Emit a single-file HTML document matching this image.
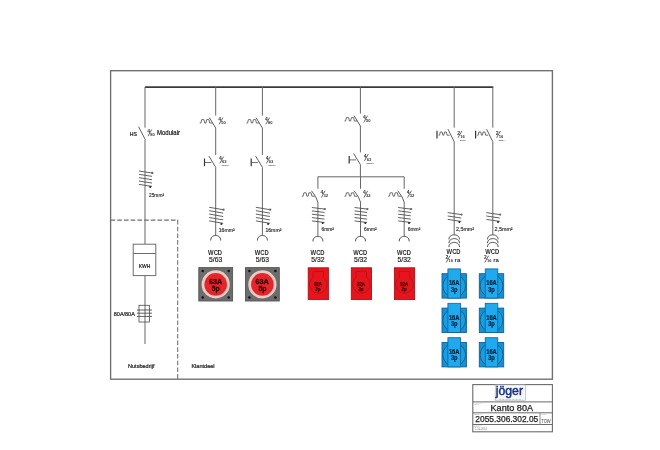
<!DOCTYPE html>
<html><head><meta charset="utf-8"><style>
html,body{margin:0;padding:0;background:#fff;width:660px;height:450px;overflow:hidden}
svg{display:block;font-family:"Liberation Sans", sans-serif;will-change:transform}
</style></head><body>
<svg width="660" height="450" viewBox="0 0 660 450">
<rect x="0" y="0" width="660" height="450" fill="#fff"/>
<rect x="110.6" y="70.7" width="441.8" height="308.5" fill="none" stroke="#6e6e6e" stroke-width="1.35"/>
<line x1="145.00" y1="87.20" x2="493.30" y2="87.20" stroke="#3a3a3a" stroke-width="1.7" />
<line x1="145.00" y1="87.00" x2="145.00" y2="127.70" stroke="#666" stroke-width="1.0" />
<line x1="138.60" y1="126.70" x2="145.40" y2="139.90" stroke="#555" stroke-width="0.95" />
<line x1="145.00" y1="140.00" x2="145.00" y2="244.20" stroke="#666" stroke-width="1.0" />
<text x="129.80" y="136.20" font-size="5.8" fill="#222" text-anchor="start" font-weight="normal" textLength="7.2" lengthAdjust="spacingAndGlyphs" stroke="#222" stroke-width="0.22" >HS</text>
<text x="147.20" y="133.00" font-size="5" fill="#333" text-anchor="start" font-weight="bold" >4</text>
<line x1="148.00" y1="136.20" x2="151.80" y2="129.40" stroke="#333" stroke-width="0.75" />
<text x="150.20" y="136.00" font-size="4.1" fill="#333" text-anchor="start" font-weight="bold" >80</text>
<text x="157.00" y="135.20" font-size="6.4" fill="#222" text-anchor="start" font-weight="normal" textLength="23" lengthAdjust="spacingAndGlyphs" stroke="#222" stroke-width="0.22" >Modulair</text>
<line x1="139.00" y1="171.00" x2="152.00" y2="173.00" stroke="#505050" stroke-width="0.9" />
<line x1="139.00" y1="174.35" x2="152.00" y2="176.35" stroke="#505050" stroke-width="0.9" />
<line x1="139.00" y1="177.70" x2="152.00" y2="179.70" stroke="#505050" stroke-width="0.9" />
<line x1="139.00" y1="181.05" x2="152.00" y2="183.05" stroke="#505050" stroke-width="0.9" />
<line x1="139.00" y1="184.40" x2="152.00" y2="186.40" stroke="#505050" stroke-width="0.9" />
<circle cx="152.30" cy="173.00" r="1.15" fill="#666"/>
<circle cx="150.20" cy="187.00" r="1.0" fill="#222"/>
<text x="149.00" y="196.60" font-size="5.2" fill="#2a2a2a" text-anchor="start" font-weight="normal" textLength="15" lengthAdjust="spacingAndGlyphs" stroke="#2a2a2a" stroke-width="0.15" >25mm²</text>
<path d="M110.6,220.1 L177.7,220.1 L177.7,379" fill="none" stroke="#6e6e6e" stroke-width="1.05" stroke-dasharray="4.6,2.1"/>
<rect x="133.2" y="244.2" width="22.6" height="31.4" fill="#fff" stroke="#666" stroke-width="0.95"/>
<line x1="133.20" y1="253.50" x2="155.80" y2="253.50" stroke="#666" stroke-width="0.95" />
<text x="144.50" y="267.80" font-size="5.4" fill="#222" text-anchor="middle" font-weight="normal" textLength="11.6" lengthAdjust="spacingAndGlyphs" stroke="#222" stroke-width="0.22" >KWH</text>
<line x1="145.00" y1="275.60" x2="145.00" y2="344.00" stroke="#666" stroke-width="1.0" />
<rect x="139" y="305.3" width="10.4" height="16.7" fill="none" stroke="#555" stroke-width="0.85"/>
<line x1="137.00" y1="310.00" x2="152.00" y2="310.00" stroke="#444" stroke-width="0.85" />
<line x1="137.00" y1="313.20" x2="152.00" y2="313.20" stroke="#444" stroke-width="0.85" />
<line x1="137.00" y1="316.40" x2="152.00" y2="316.40" stroke="#444" stroke-width="0.85" />
<text x="113.80" y="316.20" font-size="5.6" fill="#222" text-anchor="start" font-weight="normal" textLength="21" lengthAdjust="spacingAndGlyphs" stroke="#222" stroke-width="0.22" >80A/80A</text>
<text x="128.00" y="367.80" font-size="5.6" fill="#222" text-anchor="start" font-weight="normal" textLength="26.6" lengthAdjust="spacingAndGlyphs" stroke="#222" stroke-width="0.22" >Nutsbedrijf</text>
<text x="191.40" y="367.80" font-size="5.6" fill="#222" text-anchor="start" font-weight="normal" textLength="23.2" lengthAdjust="spacingAndGlyphs" stroke="#222" stroke-width="0.22" >Klantdeel</text>
<line x1="215.70" y1="87.00" x2="215.70" y2="115.60" stroke="#666" stroke-width="1.0" />
<line x1="209.30" y1="117.60" x2="215.70" y2="128.00" stroke="#555" stroke-width="0.95" />
<path d="M199.70,123.00 L200.90,123.00 L201.70,119.60 L203.90,119.60 L204.70,123.00 L205.90,123.00 L206.70,119.60 L208.90,119.60 L209.70,123.00 L212.70,123.00" fill="none" stroke="#555" stroke-width="0.85" stroke-linejoin="round"/>
<text x="218.30" y="121.20" font-size="5" fill="#333" text-anchor="start" font-weight="bold" >4</text>
<line x1="219.10" y1="124.40" x2="222.90" y2="117.60" stroke="#333" stroke-width="0.75" />
<text x="221.30" y="124.20" font-size="4.1" fill="#333" text-anchor="start" font-weight="bold" >50</text>
<line x1="215.70" y1="128.00" x2="215.70" y2="155.00" stroke="#666" stroke-width="1.0" />
<line x1="208.90" y1="156.10" x2="215.70" y2="167.30" stroke="#555" stroke-width="0.95" />
<line x1="204.50" y1="158.50" x2="204.50" y2="166.20" stroke="#333" stroke-width="1.2" />
<line x1="204.50" y1="162.50" x2="211.30" y2="162.50" stroke="#555" stroke-width="0.85" />
<text x="219.00" y="160.20" font-size="5" fill="#333" text-anchor="start" font-weight="bold" >4</text>
<line x1="219.80" y1="163.40" x2="223.60" y2="156.60" stroke="#333" stroke-width="0.75" />
<text x="222.00" y="163.20" font-size="4.1" fill="#333" text-anchor="start" font-weight="bold" >63</text>
<text x="221.60" y="166.10" font-size="2.4" fill="#555" text-anchor="start" font-weight="bold" >300mA</text>
<line x1="215.70" y1="167.30" x2="215.70" y2="235.50" stroke="#666" stroke-width="1.0" />
<line x1="209.20" y1="207.30" x2="223.20" y2="209.70" stroke="#505050" stroke-width="0.9" />
<line x1="209.20" y1="210.70" x2="223.20" y2="213.10" stroke="#505050" stroke-width="0.9" />
<line x1="209.20" y1="214.10" x2="223.20" y2="216.50" stroke="#505050" stroke-width="0.9" />
<line x1="209.20" y1="217.50" x2="223.20" y2="219.90" stroke="#505050" stroke-width="0.9" />
<line x1="209.20" y1="220.90" x2="223.20" y2="223.30" stroke="#505050" stroke-width="0.9" />
<circle cx="223.50" cy="209.70" r="1.15" fill="#666"/>
<circle cx="221.40" cy="223.90" r="1.0" fill="#222"/>
<text x="218.70" y="231.80" font-size="5.2" fill="#2a2a2a" text-anchor="start" font-weight="normal" textLength="16" lengthAdjust="spacingAndGlyphs" stroke="#2a2a2a" stroke-width="0.15" >16mm²</text>
<path d="M210.70,240.50 C210.70,236.50 213.70,235.50 215.70,235.50 C217.70,235.50 220.70,236.50 220.70,240.50" fill="none" stroke="#444" stroke-width="0.95"/>
<text x="215.10" y="255.30" font-size="6.4" fill="#2a2a2a" text-anchor="middle" font-weight="bold" textLength="14" lengthAdjust="spacingAndGlyphs" >WCD</text>
<text x="215.70" y="262.20" font-size="6.4" fill="#2a2a2a" text-anchor="middle" font-weight="normal" textLength="13.2" lengthAdjust="spacingAndGlyphs" stroke="#2a2a2a" stroke-width="0.2" >5/63</text>
<rect x="198.80" y="267.60" width="33.8" height="33.4" fill="#6c6c6c" stroke="#555" stroke-width="0.9"/>
<circle cx="202.70" cy="271.00" r="1.25" fill="#111"/>
<circle cx="202.70" cy="297.40" r="1.25" fill="#111"/>
<circle cx="228.70" cy="271.00" r="1.25" fill="#111"/>
<circle cx="228.70" cy="297.40" r="1.25" fill="#111"/>
<circle cx="215.70" cy="284.40" r="14.1" fill="#eccbc6"/>
<circle cx="215.70" cy="284.40" r="11.3" fill="#e3262c"/>
<text x="215.50" y="284.10" font-size="7.4" fill="#380303" text-anchor="middle" font-weight="bold" textLength="13.2" lengthAdjust="spacingAndGlyphs" stroke="#380303" stroke-width="0.3" >63A</text>
<text x="215.70" y="291.30" font-size="7.4" fill="#380303" text-anchor="middle" font-weight="bold" textLength="8.0" lengthAdjust="spacingAndGlyphs" stroke="#380303" stroke-width="0.3" >5p</text>
<line x1="262.40" y1="87.00" x2="262.40" y2="115.60" stroke="#666" stroke-width="1.0" />
<line x1="256.00" y1="117.60" x2="262.40" y2="128.00" stroke="#555" stroke-width="0.95" />
<path d="M246.40,123.00 L247.60,123.00 L248.40,119.60 L250.60,119.60 L251.40,123.00 L252.60,123.00 L253.40,119.60 L255.60,119.60 L256.40,123.00 L259.40,123.00" fill="none" stroke="#555" stroke-width="0.85" stroke-linejoin="round"/>
<text x="265.00" y="121.20" font-size="5" fill="#333" text-anchor="start" font-weight="bold" >4</text>
<line x1="265.80" y1="124.40" x2="269.60" y2="117.60" stroke="#333" stroke-width="0.75" />
<text x="268.00" y="124.20" font-size="4.1" fill="#333" text-anchor="start" font-weight="bold" >80</text>
<line x1="262.40" y1="128.00" x2="262.40" y2="155.00" stroke="#666" stroke-width="1.0" />
<line x1="255.60" y1="156.10" x2="262.40" y2="167.30" stroke="#555" stroke-width="0.95" />
<line x1="251.20" y1="158.50" x2="251.20" y2="166.20" stroke="#333" stroke-width="1.2" />
<line x1="251.20" y1="162.50" x2="258.00" y2="162.50" stroke="#555" stroke-width="0.85" />
<text x="265.70" y="160.20" font-size="5" fill="#333" text-anchor="start" font-weight="bold" >4</text>
<line x1="266.50" y1="163.40" x2="270.30" y2="156.60" stroke="#333" stroke-width="0.75" />
<text x="268.70" y="163.20" font-size="4.1" fill="#333" text-anchor="start" font-weight="bold" >63</text>
<text x="268.30" y="166.10" font-size="2.4" fill="#555" text-anchor="start" font-weight="bold" >300mA</text>
<line x1="262.40" y1="167.30" x2="262.40" y2="235.50" stroke="#666" stroke-width="1.0" />
<line x1="255.90" y1="207.30" x2="269.90" y2="209.70" stroke="#505050" stroke-width="0.9" />
<line x1="255.90" y1="210.70" x2="269.90" y2="213.10" stroke="#505050" stroke-width="0.9" />
<line x1="255.90" y1="214.10" x2="269.90" y2="216.50" stroke="#505050" stroke-width="0.9" />
<line x1="255.90" y1="217.50" x2="269.90" y2="219.90" stroke="#505050" stroke-width="0.9" />
<line x1="255.90" y1="220.90" x2="269.90" y2="223.30" stroke="#505050" stroke-width="0.9" />
<circle cx="270.20" cy="209.70" r="1.15" fill="#666"/>
<circle cx="268.10" cy="223.90" r="1.0" fill="#222"/>
<text x="265.40" y="231.80" font-size="5.2" fill="#2a2a2a" text-anchor="start" font-weight="normal" textLength="16" lengthAdjust="spacingAndGlyphs" stroke="#2a2a2a" stroke-width="0.15" >16mm²</text>
<path d="M257.40,240.50 C257.40,236.50 260.40,235.50 262.40,235.50 C264.40,235.50 267.40,236.50 267.40,240.50" fill="none" stroke="#444" stroke-width="0.95"/>
<text x="261.80" y="255.30" font-size="6.4" fill="#2a2a2a" text-anchor="middle" font-weight="bold" textLength="14" lengthAdjust="spacingAndGlyphs" >WCD</text>
<text x="262.40" y="262.20" font-size="6.4" fill="#2a2a2a" text-anchor="middle" font-weight="normal" textLength="13.2" lengthAdjust="spacingAndGlyphs" stroke="#2a2a2a" stroke-width="0.2" >5/63</text>
<rect x="245.50" y="267.60" width="33.8" height="33.4" fill="#6c6c6c" stroke="#555" stroke-width="0.9"/>
<circle cx="249.40" cy="271.00" r="1.25" fill="#111"/>
<circle cx="249.40" cy="297.40" r="1.25" fill="#111"/>
<circle cx="275.40" cy="271.00" r="1.25" fill="#111"/>
<circle cx="275.40" cy="297.40" r="1.25" fill="#111"/>
<circle cx="262.40" cy="284.40" r="14.1" fill="#eccbc6"/>
<circle cx="262.40" cy="284.40" r="11.3" fill="#e3262c"/>
<text x="262.20" y="284.10" font-size="7.4" fill="#380303" text-anchor="middle" font-weight="bold" textLength="13.2" lengthAdjust="spacingAndGlyphs" stroke="#380303" stroke-width="0.3" >63A</text>
<text x="262.40" y="291.30" font-size="7.4" fill="#380303" text-anchor="middle" font-weight="bold" textLength="8.0" lengthAdjust="spacingAndGlyphs" stroke="#380303" stroke-width="0.3" >5p</text>
<line x1="360.40" y1="87.00" x2="360.40" y2="113.60" stroke="#666" stroke-width="1.0" />
<line x1="354.00" y1="115.60" x2="360.40" y2="126.00" stroke="#555" stroke-width="0.95" />
<path d="M344.40,121.00 L345.60,121.00 L346.40,117.60 L348.60,117.60 L349.40,121.00 L350.60,121.00 L351.40,117.60 L353.60,117.60 L354.40,121.00 L357.40,121.00" fill="none" stroke="#555" stroke-width="0.85" stroke-linejoin="round"/>
<text x="363.00" y="119.20" font-size="5" fill="#333" text-anchor="start" font-weight="bold" >4</text>
<line x1="363.80" y1="122.40" x2="367.60" y2="115.60" stroke="#333" stroke-width="0.75" />
<text x="366.00" y="122.20" font-size="4.1" fill="#333" text-anchor="start" font-weight="bold" >50</text>
<line x1="360.40" y1="126.00" x2="360.40" y2="152.40" stroke="#666" stroke-width="1.0" />
<line x1="353.60" y1="153.50" x2="360.40" y2="164.60" stroke="#555" stroke-width="0.95" />
<line x1="349.20" y1="155.90" x2="349.20" y2="163.60" stroke="#333" stroke-width="1.2" />
<line x1="349.20" y1="159.90" x2="356.00" y2="159.90" stroke="#555" stroke-width="0.85" />
<text x="363.70" y="157.60" font-size="5" fill="#333" text-anchor="start" font-weight="bold" >4</text>
<line x1="364.50" y1="160.80" x2="368.30" y2="154.00" stroke="#333" stroke-width="0.75" />
<text x="366.70" y="160.60" font-size="4.1" fill="#333" text-anchor="start" font-weight="bold" >63</text>
<text x="366.30" y="163.50" font-size="2.4" fill="#555" text-anchor="start" font-weight="bold" >300mA</text>
<line x1="360.40" y1="164.60" x2="360.40" y2="176.80" stroke="#666" stroke-width="1.0" />
<line x1="317.80" y1="176.80" x2="404.20" y2="176.80" stroke="#666" stroke-width="1.0" />
<line x1="317.90" y1="176.80" x2="317.90" y2="188.80" stroke="#666" stroke-width="1.0" />
<path d="M311.50,190.80 Q316.70,197.07 317.90,202.20" fill="none" stroke="#555" stroke-width="0.95"/>
<path d="M301.90,196.20 L303.10,196.20 L303.90,192.80 L306.10,192.80 L306.90,196.20 L308.10,196.20 L308.90,192.80 L311.10,192.80 L311.90,196.20 L314.90,196.20" fill="none" stroke="#555" stroke-width="0.85" stroke-linejoin="round"/>
<text x="320.50" y="194.40" font-size="5" fill="#333" text-anchor="start" font-weight="bold" >4</text>
<line x1="321.30" y1="197.60" x2="325.10" y2="190.80" stroke="#333" stroke-width="0.75" />
<text x="323.50" y="197.40" font-size="4.1" fill="#333" text-anchor="start" font-weight="bold" >32</text>
<line x1="317.90" y1="202.00" x2="317.90" y2="236.40" stroke="#666" stroke-width="1.0" />
<line x1="311.90" y1="207.50" x2="324.50" y2="209.10" stroke="#505050" stroke-width="0.9" />
<line x1="311.90" y1="210.85" x2="324.50" y2="212.45" stroke="#505050" stroke-width="0.9" />
<line x1="311.90" y1="214.20" x2="324.50" y2="215.80" stroke="#505050" stroke-width="0.9" />
<line x1="311.90" y1="217.55" x2="324.50" y2="219.15" stroke="#505050" stroke-width="0.9" />
<line x1="311.90" y1="220.90" x2="324.50" y2="222.50" stroke="#505050" stroke-width="0.9" />
<circle cx="324.80" cy="209.10" r="1.15" fill="#666"/>
<circle cx="322.70" cy="223.10" r="1.0" fill="#222"/>
<text x="321.50" y="230.60" font-size="5.2" fill="#2a2a2a" text-anchor="start" font-weight="normal" textLength="12.5" lengthAdjust="spacingAndGlyphs" stroke="#2a2a2a" stroke-width="0.15" >6mm²</text>
<path d="M312.90,241.40 C312.90,237.40 315.90,236.40 317.90,236.40 C319.90,236.40 322.90,237.40 322.90,241.40" fill="none" stroke="#444" stroke-width="0.95"/>
<text x="317.60" y="255.30" font-size="6.4" fill="#2a2a2a" text-anchor="middle" font-weight="bold" textLength="14" lengthAdjust="spacingAndGlyphs" >WCD</text>
<text x="317.90" y="262.20" font-size="6.4" fill="#2a2a2a" text-anchor="middle" font-weight="normal" textLength="13.2" lengthAdjust="spacingAndGlyphs" stroke="#2a2a2a" stroke-width="0.2" >5/32</text>
<rect x="308.20" y="267.80" width="20.2" height="31.8" fill="#e6141d" stroke="#a81218" stroke-width="0.9"/>
<path d="M313.00,277.40 L313.00,271.40 L323.40,271.40 L323.40,277.40 A8.8,8.8 0 1 1 313.00,277.40 Z" fill="none" stroke="#bb0f17" stroke-width="0.8"/>
<text x="317.90" y="285.60" font-size="5.2" fill="#4a0404" text-anchor="middle" font-weight="bold" textLength="8.0" lengthAdjust="spacingAndGlyphs" stroke="#4a0404" stroke-width="0.25" >32A</text>
<text x="317.90" y="290.70" font-size="5.2" fill="#4a0404" text-anchor="middle" font-weight="bold" textLength="5.2" lengthAdjust="spacingAndGlyphs" stroke="#4a0404" stroke-width="0.25" >3p</text>
<line x1="360.50" y1="176.80" x2="360.50" y2="188.80" stroke="#666" stroke-width="1.0" />
<path d="M354.10,190.80 Q359.30,197.07 360.50,202.20" fill="none" stroke="#555" stroke-width="0.95"/>
<path d="M344.50,196.20 L345.70,196.20 L346.50,192.80 L348.70,192.80 L349.50,196.20 L350.70,196.20 L351.50,192.80 L353.70,192.80 L354.50,196.20 L357.50,196.20" fill="none" stroke="#555" stroke-width="0.85" stroke-linejoin="round"/>
<text x="363.10" y="194.40" font-size="5" fill="#333" text-anchor="start" font-weight="bold" >4</text>
<line x1="363.90" y1="197.60" x2="367.70" y2="190.80" stroke="#333" stroke-width="0.75" />
<text x="366.10" y="197.40" font-size="4.1" fill="#333" text-anchor="start" font-weight="bold" >32</text>
<line x1="360.50" y1="202.00" x2="360.50" y2="236.40" stroke="#666" stroke-width="1.0" />
<line x1="354.50" y1="207.50" x2="367.10" y2="209.10" stroke="#505050" stroke-width="0.9" />
<line x1="354.50" y1="210.85" x2="367.10" y2="212.45" stroke="#505050" stroke-width="0.9" />
<line x1="354.50" y1="214.20" x2="367.10" y2="215.80" stroke="#505050" stroke-width="0.9" />
<line x1="354.50" y1="217.55" x2="367.10" y2="219.15" stroke="#505050" stroke-width="0.9" />
<line x1="354.50" y1="220.90" x2="367.10" y2="222.50" stroke="#505050" stroke-width="0.9" />
<circle cx="367.40" cy="209.10" r="1.15" fill="#666"/>
<circle cx="365.30" cy="223.10" r="1.0" fill="#222"/>
<text x="364.10" y="230.60" font-size="5.2" fill="#2a2a2a" text-anchor="start" font-weight="normal" textLength="12.5" lengthAdjust="spacingAndGlyphs" stroke="#2a2a2a" stroke-width="0.15" >6mm²</text>
<path d="M355.50,241.40 C355.50,237.40 358.50,236.40 360.50,236.40 C362.50,236.40 365.50,237.40 365.50,241.40" fill="none" stroke="#444" stroke-width="0.95"/>
<text x="360.20" y="255.30" font-size="6.4" fill="#2a2a2a" text-anchor="middle" font-weight="bold" textLength="14" lengthAdjust="spacingAndGlyphs" >WCD</text>
<text x="360.50" y="262.20" font-size="6.4" fill="#2a2a2a" text-anchor="middle" font-weight="normal" textLength="13.2" lengthAdjust="spacingAndGlyphs" stroke="#2a2a2a" stroke-width="0.2" >5/32</text>
<rect x="351.30" y="267.80" width="20.2" height="31.8" fill="#e6141d" stroke="#a81218" stroke-width="0.9"/>
<path d="M356.10,277.40 L356.10,271.40 L366.50,271.40 L366.50,277.40 A8.8,8.8 0 1 1 356.10,277.40 Z" fill="none" stroke="#bb0f17" stroke-width="0.8"/>
<text x="361.00" y="285.60" font-size="5.2" fill="#4a0404" text-anchor="middle" font-weight="bold" textLength="8.0" lengthAdjust="spacingAndGlyphs" stroke="#4a0404" stroke-width="0.25" >32A</text>
<text x="361.00" y="290.70" font-size="5.2" fill="#4a0404" text-anchor="middle" font-weight="bold" textLength="5.2" lengthAdjust="spacingAndGlyphs" stroke="#4a0404" stroke-width="0.25" >3p</text>
<line x1="404.20" y1="176.80" x2="404.20" y2="188.80" stroke="#666" stroke-width="1.0" />
<path d="M397.80,190.80 Q403.00,197.07 404.20,202.20" fill="none" stroke="#555" stroke-width="0.95"/>
<path d="M388.20,196.20 L389.40,196.20 L390.20,192.80 L392.40,192.80 L393.20,196.20 L394.40,196.20 L395.20,192.80 L397.40,192.80 L398.20,196.20 L401.20,196.20" fill="none" stroke="#555" stroke-width="0.85" stroke-linejoin="round"/>
<text x="406.80" y="194.40" font-size="5" fill="#333" text-anchor="start" font-weight="bold" >4</text>
<line x1="407.60" y1="197.60" x2="411.40" y2="190.80" stroke="#333" stroke-width="0.75" />
<text x="409.80" y="197.40" font-size="4.1" fill="#333" text-anchor="start" font-weight="bold" >32</text>
<line x1="404.20" y1="202.00" x2="404.20" y2="236.40" stroke="#666" stroke-width="1.0" />
<line x1="398.20" y1="207.50" x2="410.80" y2="209.10" stroke="#505050" stroke-width="0.9" />
<line x1="398.20" y1="210.85" x2="410.80" y2="212.45" stroke="#505050" stroke-width="0.9" />
<line x1="398.20" y1="214.20" x2="410.80" y2="215.80" stroke="#505050" stroke-width="0.9" />
<line x1="398.20" y1="217.55" x2="410.80" y2="219.15" stroke="#505050" stroke-width="0.9" />
<line x1="398.20" y1="220.90" x2="410.80" y2="222.50" stroke="#505050" stroke-width="0.9" />
<circle cx="411.10" cy="209.10" r="1.15" fill="#666"/>
<circle cx="409.00" cy="223.10" r="1.0" fill="#222"/>
<text x="407.80" y="230.60" font-size="5.2" fill="#2a2a2a" text-anchor="start" font-weight="normal" textLength="12.5" lengthAdjust="spacingAndGlyphs" stroke="#2a2a2a" stroke-width="0.15" >6mm²</text>
<path d="M399.20,241.40 C399.20,237.40 402.20,236.40 404.20,236.40 C406.20,236.40 409.20,237.40 409.20,241.40" fill="none" stroke="#444" stroke-width="0.95"/>
<text x="403.90" y="255.30" font-size="6.4" fill="#2a2a2a" text-anchor="middle" font-weight="bold" textLength="14" lengthAdjust="spacingAndGlyphs" >WCD</text>
<text x="404.20" y="262.20" font-size="6.4" fill="#2a2a2a" text-anchor="middle" font-weight="normal" textLength="13.2" lengthAdjust="spacingAndGlyphs" stroke="#2a2a2a" stroke-width="0.2" >5/32</text>
<rect x="394.40" y="267.80" width="20.2" height="31.8" fill="#e6141d" stroke="#a81218" stroke-width="0.9"/>
<path d="M399.20,277.40 L399.20,271.40 L409.60,271.40 L409.60,277.40 A8.8,8.8 0 1 1 399.20,277.40 Z" fill="none" stroke="#bb0f17" stroke-width="0.8"/>
<text x="404.10" y="285.60" font-size="5.2" fill="#4a0404" text-anchor="middle" font-weight="bold" textLength="8.0" lengthAdjust="spacingAndGlyphs" stroke="#4a0404" stroke-width="0.25" >32A</text>
<text x="404.10" y="290.70" font-size="5.2" fill="#4a0404" text-anchor="middle" font-weight="bold" textLength="5.2" lengthAdjust="spacingAndGlyphs" stroke="#4a0404" stroke-width="0.25" >3p</text>
<line x1="454.20" y1="87.00" x2="454.20" y2="127.70" stroke="#666" stroke-width="1.0" />
<line x1="448.00" y1="129.20" x2="454.20" y2="141.70" stroke="#555" stroke-width="0.95" />
<line x1="437.00" y1="130.80" x2="437.00" y2="138.60" stroke="#333" stroke-width="1.2" />
<path d="M438.60,135.20 L439.62,135.20 L440.29,132.00 L442.15,132.00 L442.83,135.20 L443.85,135.20 L444.52,132.00 L446.38,132.00 L447.06,135.20 L449.60,135.20" fill="none" stroke="#555" stroke-width="0.85" stroke-linejoin="round"/>
<text x="457.20" y="134.60" font-size="5" fill="#333" text-anchor="start" font-weight="bold" >2</text>
<line x1="458.00" y1="137.80" x2="461.80" y2="131.00" stroke="#333" stroke-width="0.75" />
<text x="460.20" y="137.60" font-size="4.1" fill="#333" text-anchor="start" font-weight="bold" >16</text>
<text x="459.80" y="140.50" font-size="2.4" fill="#555" text-anchor="start" font-weight="bold" >30mA</text>
<line x1="454.20" y1="141.70" x2="454.20" y2="234.80" stroke="#666" stroke-width="1.0" />
<line x1="447.70" y1="212.60" x2="461.20" y2="214.60" stroke="#505050" stroke-width="0.9" />
<line x1="447.70" y1="216.00" x2="461.20" y2="218.00" stroke="#505050" stroke-width="0.9" />
<line x1="447.70" y1="219.40" x2="461.20" y2="221.40" stroke="#505050" stroke-width="0.9" />
<circle cx="461.50" cy="214.60" r="1.15" fill="#666"/>
<circle cx="459.40" cy="222.00" r="1.0" fill="#222"/>
<text x="456.00" y="230.50" font-size="5.2" fill="#2a2a2a" text-anchor="start" font-weight="normal" textLength="18" lengthAdjust="spacingAndGlyphs" stroke="#2a2a2a" stroke-width="0.15" >2,5mm²</text>
<path d="M448.90,239.40 C448.90,235.80 452.20,234.80 454.20,234.80 C456.20,234.80 459.50,235.80 459.50,239.40" fill="none" stroke="#444" stroke-width="0.95"/>
<path d="M448.90,243.20 C448.90,239.60 452.20,238.60 454.20,238.60 C456.20,238.60 459.50,239.60 459.50,243.20" fill="none" stroke="#444" stroke-width="0.95"/>
<path d="M448.90,247.00 C448.90,243.40 452.20,242.40 454.20,242.40 C456.20,242.40 459.50,243.40 459.50,247.00" fill="none" stroke="#444" stroke-width="0.95"/>
<text x="453.60" y="254.20" font-size="6.4" fill="#2a2a2a" text-anchor="middle" font-weight="bold" textLength="14" lengthAdjust="spacingAndGlyphs" >WCD</text>
<text x="445.40" y="259.30" font-size="5" fill="#333" text-anchor="start" font-weight="bold" >2</text>
<line x1="446.20" y1="262.50" x2="450.00" y2="255.70" stroke="#333" stroke-width="0.75" />
<text x="448.40" y="262.30" font-size="4.1" fill="#333" text-anchor="start" font-weight="bold" >16</text>
<text x="454.60" y="261.80" font-size="6.2" fill="#2a2a2a" text-anchor="start" font-weight="bold" textLength="5.6" lengthAdjust="spacingAndGlyphs" >ra</text>
<rect x="442.00" y="273.70" width="24.4" height="24.4" fill="#1590d0" stroke="#10609a" stroke-width="0.9"/>
<circle cx="454.20" cy="285.90" r="11.4" fill="#1a9ee2" stroke="#0f5c94" stroke-width="0.9"/>
<rect x="447.90" y="268.90" width="12.6" height="29.2" fill="#1faaee" stroke="#10609a" stroke-width="0.8"/>
<text x="454.20" y="285.10" font-size="6.4" fill="#08203a" text-anchor="middle" font-weight="bold" textLength="10.6" lengthAdjust="spacingAndGlyphs" stroke="#08203a" stroke-width="0.2" >16A</text>
<text x="454.20" y="291.50" font-size="6.4" fill="#08203a" text-anchor="middle" font-weight="bold" textLength="6.6" lengthAdjust="spacingAndGlyphs" stroke="#08203a" stroke-width="0.2" >3p</text>
<rect x="442.00" y="308.10" width="24.4" height="24.4" fill="#1590d0" stroke="#10609a" stroke-width="0.9"/>
<circle cx="454.20" cy="320.30" r="11.4" fill="#1a9ee2" stroke="#0f5c94" stroke-width="0.9"/>
<rect x="447.90" y="303.30" width="12.6" height="29.2" fill="#1faaee" stroke="#10609a" stroke-width="0.8"/>
<text x="454.20" y="319.50" font-size="6.4" fill="#08203a" text-anchor="middle" font-weight="bold" textLength="10.6" lengthAdjust="spacingAndGlyphs" stroke="#08203a" stroke-width="0.2" >16A</text>
<text x="454.20" y="325.90" font-size="6.4" fill="#08203a" text-anchor="middle" font-weight="bold" textLength="6.6" lengthAdjust="spacingAndGlyphs" stroke="#08203a" stroke-width="0.2" >3p</text>
<rect x="442.00" y="342.50" width="24.4" height="24.4" fill="#1590d0" stroke="#10609a" stroke-width="0.9"/>
<circle cx="454.20" cy="354.70" r="11.4" fill="#1a9ee2" stroke="#0f5c94" stroke-width="0.9"/>
<rect x="447.90" y="337.70" width="12.6" height="29.2" fill="#1faaee" stroke="#10609a" stroke-width="0.8"/>
<text x="454.20" y="353.90" font-size="6.4" fill="#08203a" text-anchor="middle" font-weight="bold" textLength="10.6" lengthAdjust="spacingAndGlyphs" stroke="#08203a" stroke-width="0.2" >16A</text>
<text x="454.20" y="360.30" font-size="6.4" fill="#08203a" text-anchor="middle" font-weight="bold" textLength="6.6" lengthAdjust="spacingAndGlyphs" stroke="#08203a" stroke-width="0.2" >3p</text>
<line x1="492.80" y1="87.00" x2="492.80" y2="127.70" stroke="#666" stroke-width="1.0" />
<line x1="486.60" y1="129.20" x2="492.80" y2="141.70" stroke="#555" stroke-width="0.95" />
<line x1="475.60" y1="130.80" x2="475.60" y2="138.60" stroke="#333" stroke-width="1.2" />
<path d="M477.20,135.20 L478.22,135.20 L478.89,132.00 L480.75,132.00 L481.43,135.20 L482.45,135.20 L483.12,132.00 L484.98,132.00 L485.66,135.20 L488.20,135.20" fill="none" stroke="#555" stroke-width="0.85" stroke-linejoin="round"/>
<text x="495.80" y="134.60" font-size="5" fill="#333" text-anchor="start" font-weight="bold" >2</text>
<line x1="496.60" y1="137.80" x2="500.40" y2="131.00" stroke="#333" stroke-width="0.75" />
<text x="498.80" y="137.60" font-size="4.1" fill="#333" text-anchor="start" font-weight="bold" >16</text>
<text x="498.40" y="140.50" font-size="2.4" fill="#555" text-anchor="start" font-weight="bold" >30mA</text>
<line x1="492.80" y1="141.70" x2="492.80" y2="234.80" stroke="#666" stroke-width="1.0" />
<line x1="486.30" y1="212.60" x2="499.80" y2="214.60" stroke="#505050" stroke-width="0.9" />
<line x1="486.30" y1="216.00" x2="499.80" y2="218.00" stroke="#505050" stroke-width="0.9" />
<line x1="486.30" y1="219.40" x2="499.80" y2="221.40" stroke="#505050" stroke-width="0.9" />
<circle cx="500.10" cy="214.60" r="1.15" fill="#666"/>
<circle cx="498.00" cy="222.00" r="1.0" fill="#222"/>
<text x="494.60" y="230.50" font-size="5.2" fill="#2a2a2a" text-anchor="start" font-weight="normal" textLength="18" lengthAdjust="spacingAndGlyphs" stroke="#2a2a2a" stroke-width="0.15" >2,5mm²</text>
<path d="M487.50,239.40 C487.50,235.80 490.80,234.80 492.80,234.80 C494.80,234.80 498.10,235.80 498.10,239.40" fill="none" stroke="#444" stroke-width="0.95"/>
<path d="M487.50,243.20 C487.50,239.60 490.80,238.60 492.80,238.60 C494.80,238.60 498.10,239.60 498.10,243.20" fill="none" stroke="#444" stroke-width="0.95"/>
<path d="M487.50,247.00 C487.50,243.40 490.80,242.40 492.80,242.40 C494.80,242.40 498.10,243.40 498.10,247.00" fill="none" stroke="#444" stroke-width="0.95"/>
<text x="492.20" y="254.20" font-size="6.4" fill="#2a2a2a" text-anchor="middle" font-weight="bold" textLength="14" lengthAdjust="spacingAndGlyphs" >WCD</text>
<text x="484.00" y="259.30" font-size="5" fill="#333" text-anchor="start" font-weight="bold" >2</text>
<line x1="484.80" y1="262.50" x2="488.60" y2="255.70" stroke="#333" stroke-width="0.75" />
<text x="487.00" y="262.30" font-size="4.1" fill="#333" text-anchor="start" font-weight="bold" >16</text>
<text x="493.20" y="261.80" font-size="6.2" fill="#2a2a2a" text-anchor="start" font-weight="bold" textLength="5.6" lengthAdjust="spacingAndGlyphs" >ra</text>
<rect x="479.30" y="273.70" width="24.4" height="24.4" fill="#1590d0" stroke="#10609a" stroke-width="0.9"/>
<circle cx="491.50" cy="285.90" r="11.4" fill="#1a9ee2" stroke="#0f5c94" stroke-width="0.9"/>
<rect x="485.20" y="268.90" width="12.6" height="29.2" fill="#1faaee" stroke="#10609a" stroke-width="0.8"/>
<text x="491.50" y="285.10" font-size="6.4" fill="#08203a" text-anchor="middle" font-weight="bold" textLength="10.6" lengthAdjust="spacingAndGlyphs" stroke="#08203a" stroke-width="0.2" >16A</text>
<text x="491.50" y="291.50" font-size="6.4" fill="#08203a" text-anchor="middle" font-weight="bold" textLength="6.6" lengthAdjust="spacingAndGlyphs" stroke="#08203a" stroke-width="0.2" >3p</text>
<rect x="479.30" y="308.10" width="24.4" height="24.4" fill="#1590d0" stroke="#10609a" stroke-width="0.9"/>
<circle cx="491.50" cy="320.30" r="11.4" fill="#1a9ee2" stroke="#0f5c94" stroke-width="0.9"/>
<rect x="485.20" y="303.30" width="12.6" height="29.2" fill="#1faaee" stroke="#10609a" stroke-width="0.8"/>
<text x="491.50" y="319.50" font-size="6.4" fill="#08203a" text-anchor="middle" font-weight="bold" textLength="10.6" lengthAdjust="spacingAndGlyphs" stroke="#08203a" stroke-width="0.2" >16A</text>
<text x="491.50" y="325.90" font-size="6.4" fill="#08203a" text-anchor="middle" font-weight="bold" textLength="6.6" lengthAdjust="spacingAndGlyphs" stroke="#08203a" stroke-width="0.2" >3p</text>
<rect x="479.30" y="342.50" width="24.4" height="24.4" fill="#1590d0" stroke="#10609a" stroke-width="0.9"/>
<circle cx="491.50" cy="354.70" r="11.4" fill="#1a9ee2" stroke="#0f5c94" stroke-width="0.9"/>
<rect x="485.20" y="337.70" width="12.6" height="29.2" fill="#1faaee" stroke="#10609a" stroke-width="0.8"/>
<text x="491.50" y="353.90" font-size="6.4" fill="#08203a" text-anchor="middle" font-weight="bold" textLength="10.6" lengthAdjust="spacingAndGlyphs" stroke="#08203a" stroke-width="0.2" >16A</text>
<text x="491.50" y="360.30" font-size="6.4" fill="#08203a" text-anchor="middle" font-weight="bold" textLength="6.6" lengthAdjust="spacingAndGlyphs" stroke="#08203a" stroke-width="0.2" >3p</text>
<rect x="472.8" y="384.6" width="79.6" height="47.2" fill="none" stroke="#6a6a6a" stroke-width="1.1"/>
<line x1="472.80" y1="401.90" x2="552.40" y2="401.90" stroke="#6a6a6a" stroke-width="1.0" />
<line x1="472.80" y1="412.80" x2="552.40" y2="412.80" stroke="#6a6a6a" stroke-width="1.0" />
<line x1="472.80" y1="424.50" x2="552.40" y2="424.50" stroke="#6a6a6a" stroke-width="1.0" />
<line x1="472.80" y1="403.30" x2="482.00" y2="403.30" stroke="#c8c8c8" stroke-width="0.5" />
<line x1="472.80" y1="414.20" x2="482.00" y2="414.20" stroke="#c8c8c8" stroke-width="0.5" />
<line x1="472.80" y1="425.90" x2="482.00" y2="425.90" stroke="#c8c8c8" stroke-width="0.5" />
<line x1="540.00" y1="412.80" x2="540.00" y2="424.50" stroke="#888" stroke-width="1.0" />
<rect x="495.2" y="384.9" width="30.3" height="15.3" fill="#f6f8fc" stroke="#a8a8a8" stroke-width="0.6"/>
<text x="509.40" y="395.00" font-size="12.0" fill="#1a2f80" text-anchor="middle" font-weight="normal" textLength="27.2" lengthAdjust="spacingAndGlyphs" stroke="#1a2f80" stroke-width="0.45" >jöger</text>
<text x="510.00" y="399.60" font-size="1.6" fill="#a8c0d8" text-anchor="middle" font-weight="normal" textLength="22" lengthAdjust="spacingAndGlyphs" >■ ■ ■ ■ ■ ■ ■</text>
<text x="511.80" y="410.60" font-size="8.8" fill="#1c1c1c" text-anchor="middle" font-weight="normal" textLength="42.5" lengthAdjust="spacingAndGlyphs" stroke="#1c1c1c" stroke-width="0.25" >Kanto 80A</text>
<text x="475.30" y="422.00" font-size="9.0" fill="#1c1c1c" text-anchor="start" font-weight="normal" textLength="63.0" lengthAdjust="spacingAndGlyphs" stroke="#1c1c1c" stroke-width="0.25" >2055.306.302.05</text>
<text x="546.00" y="422.60" font-size="5.0" fill="#444" text-anchor="middle" font-weight="normal" textLength="9.5" lengthAdjust="spacingAndGlyphs" >TOW</text>
<text x="475.00" y="429.80" font-size="2.6" fill="#777" text-anchor="start" font-weight="normal" >1-10-2014</text>
<text x="474.00" y="404.60" font-size="1.9" fill="#aaa" text-anchor="start" font-weight="normal" >naam</text>
<text x="474.00" y="414.60" font-size="1.9" fill="#aaa" text-anchor="start" font-weight="normal" >naam</text>
<text x="541.50" y="414.60" font-size="1.9" fill="#aaa" text-anchor="start" font-weight="normal" >naam</text>
<text x="474.00" y="426.60" font-size="1.9" fill="#aaa" text-anchor="start" font-weight="normal" >naam</text>
</svg>
</body></html>
